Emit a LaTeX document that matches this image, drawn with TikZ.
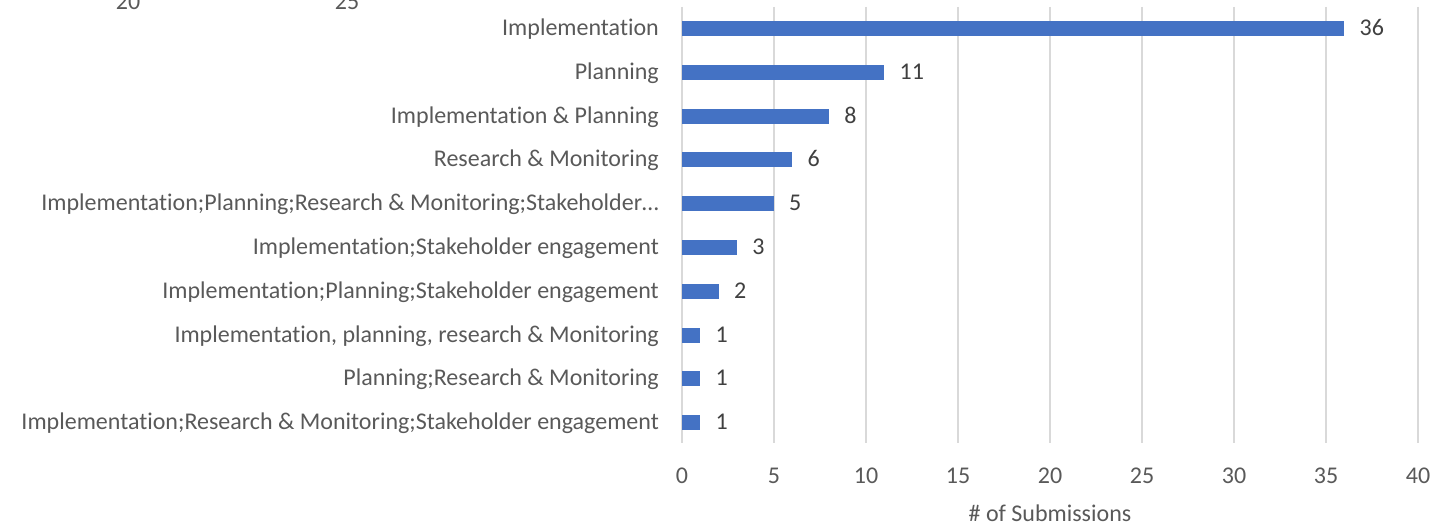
\documentclass[tikz,border=0pt]{standalone}
\usepackage{fontspec}
\setmainfont{Carlito}[RawFeature=-liga]
\definecolor{barblue}{HTML}{4472C4}
\definecolor{axisgray}{HTML}{595959}
\definecolor{valgray}{HTML}{404040}
\definecolor{gridgray}{HTML}{D9D9D9}
\begin{document}
\begin{tikzpicture}[x=1pt, y=-1pt,
    every node/.style={inner sep=0pt, font=\fontsize{24}{28}\selectfont},
    gridline/.style={gridgray, line width=1.5pt},
    bar/.style={fill=barblue},
    cat/.style={anchor=base east, text=axisgray},
    val/.style={anchor=base west, text=valgray},
    tick/.style={anchor=base, text=axisgray}]
\useasboundingbox (0,0) rectangle (1434,527);
% leftover tick labels of the chart above
\node[tick] (cut20) at (128,9.5){20};
\node[tick] (cut25) at (347,9.5){25};
\foreach \v in {0,5,...,40}
{
    \draw[gridline] (682+18.4*\v,7)--(682+18.4*\v,443);
    \node[tick] (tick\v) at (682+18.4*\v,483){\v};
}
\foreach \v [count=\i] in {36,11,8,6,5,3,2,1,1,1}
{
    \fill[bar] (682,{28.5+43.8*(\i-1)-7.5}) rectangle ++(18.4*\v,15);
    \node[val] (val\i) at ({682+18.4*\v+15},{35.5+43.8*(\i-1)}){\v};
}
\foreach \l [count=\i] in {Implementation, Planning, Implementation \& Planning\hspace{6pt},
    Research \& Monitoring, Implementation;Planning;Research \& Monitoring;Stakeholder…,
    Implementation;Stakeholder engagement, Implementation;Planning;Stakeholder engagement,
    {Implementation, planning, research \& Monitoring}, Planning;Research \& Monitoring,
    Implementation;Research \& Monitoring;Stakeholder engagement}
{
    \node[cat] (cat\i) at (659,{35.5+43.8*(\i-1)}){\l};
}
\node[tick] (xtitle) at (1050,521){\# of Submissions};
\end{tikzpicture}
\end{document}
